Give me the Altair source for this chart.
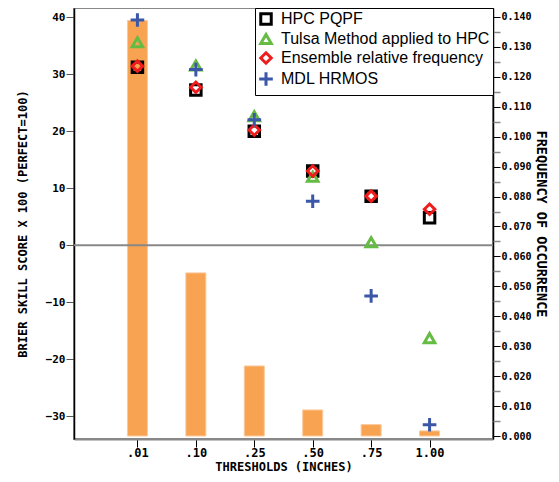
import altair as alt
import pandas as pd

thresholds = [".01", ".10", ".25", ".50", ".75", "1.00"]
positions = [1, 2, 3, 4, 5, 6]
frequency = [0.1388, 0.0545, 0.0234, 0.0087, 0.0038, 0.0017]

series_names = ["HPC PQPF", "Tulsa Method applied to HPC",
                "Ensemble relative frequency", "MDL HRMOS"]
hpc_pqpf = [31.2, 27.2, 20.0, 13.0, 8.6, 4.8]
tulsa = [35.6, 31.5, 22.6, 12.0, 0.5, -16.3]
ensemble = [31.4, 27.7, 20.2, 13.0, 8.6, 6.3]
mdl_hrmos = [39.5, 30.8, 22.0, 7.7, -8.9, -31.5]
zero_line = [0]

colors = ["#000000", "#66BB44", "#EE1C1C", "#3B57A8"]
shapes = ["square", "triangle-up", "diamond", "M-1.3,0H1.3M0,-1.3V1.3"]

bars_df = pd.DataFrame({"pos": positions, "label": thresholds, "freq": frequency})
rows = []
for name, vals in zip(series_names, [hpc_pqpf, tulsa, ensemble, mdl_hrmos]):
    for p, v in zip(positions, vals):
        rows.append({"pos": p, "series": name, "score": v})
pts_df = pd.DataFrame(rows)
zero_df = pd.DataFrame({"score": zero_line})

label_list = "[" + ",".join(["''"] + ["'%s'" % t for t in thresholds] + ["''"]) + "]"

MONO = "DejaVu Sans Mono"

x_scale = alt.Scale(domain=[0, 7], nice=False, zero=False)
x_axis = alt.Axis(values=positions, labelExpr=label_list + "[datum.value]",
                  title="THRESHOLDS (INCHES)", grid=False,
                  domainColor="#888888", domainWidth=2, tickColor="#000000",
                  tickSize=8, tickWidth=1, labelFont=MONO, labelFontWeight="bold",
                  labelFontSize=12, labelColor="#000", labelPadding=0,
                  titleFont=MONO, titleFontWeight="bold", titleFontSize=12,
                  titleColor="#000", titlePadding=3)

freq_scale = alt.Scale(domain=[-0.001, 0.143], nice=False, zero=False)
left_scale = alt.Scale(domain=[-34.0, 41.6], nice=False, zero=False)

bars = alt.Chart(bars_df).mark_bar(size=20, color="#F8A352", stroke="#FBC99A",
                                   strokeWidth=1).encode(
    x=alt.X("pos:Q", scale=x_scale, axis=x_axis),
    y=alt.Y("freq:Q", scale=freq_scale,
            axis=alt.Axis(orient="right", values=[i / 100 for i in range(15)],
                          format=".3f", title="FREQUENCY OF OCCURRENCE",
                          grid=False, domainColor="#000", domainWidth=1.5,
                          tickColor="#000", tickSize=7, labelFont=MONO,
                          labelFontWeight="bold", labelFontSize=10,
                          labelColor="#000", labelPadding=1,
                          titleFont=MONO, titleFontWeight="bold",
                          titleFontSize=13.5, titleColor="#000",
                          titlePadding=2)),
    y2=alt.datum(0),
)

minor = alt.Chart(bars_df).mark_point(opacity=0).encode(
    x=alt.X("pos:Q", scale=x_scale),
    y=alt.Y("freq:Q", scale=freq_scale,
            axis=alt.Axis(orient="right",
                          values=[(2 * i + 1) / 200 for i in range(14)],
                          labels=False, title=None, grid=False, domain=False,
                          tickColor="#888888", tickSize=7, tickWidth=1.5)),
)

left_axis = alt.Axis(orient="left", values=list(range(-30, 41, 10)),
                     title="BRIER SKILL SCORE X 100 (PERFECT=100)", grid=False,
                     domainColor="#000", domainWidth=1.5, tickColor="#555",
                     tickSize=8, labelFont=MONO, labelFontWeight="bold",
                     labelFontSize=11, labelColor="#000", labelPadding=1,
                     titleFont=MONO, titleFontWeight="bold", titleFontSize=12,
                     titleColor="#000", titlePadding=16)

rule = alt.Chart(zero_df).mark_rule(color="#888888", strokeWidth=2).encode(
    y=alt.Y("score:Q", scale=left_scale, axis=left_axis),
)

points = alt.Chart(pts_df).mark_point(filled=False, strokeWidth=3, size=110,
                                      opacity=1).encode(
    x=alt.X("pos:Q", scale=x_scale),
    y=alt.Y("score:Q", scale=left_scale, axis=left_axis),
    color=alt.Color("series:N", scale=alt.Scale(domain=series_names, range=colors),
                    legend=alt.Legend(title=None)),
    shape=alt.Shape("series:N", scale=alt.Scale(domain=series_names, range=shapes),
                    legend=alt.Legend(title=None)),
)

chart = alt.layer(bars, minor, alt.layer(rule, points)).resolve_scale(
    y="independent"
).properties(
    width=419, height=431,
    autosize=alt.AutoSizeParams(type="none"),
    padding={"left": 66, "top": 0, "right": 58, "bottom": 40},
).configure_view(
    stroke="#888888", strokeWidth=2
).configure_legend(
    orient="top-right", offset=0, strokeColor="#000", fillColor="#fff",
    padding=3, rowPadding=-4, labelFont="Liberation Sans", labelFontSize=16,
    labelColor="#000", symbolStrokeWidth=3, symbolSize=110, labelOffset=7,
    labelLimit=400, symbolType="square"
)

chart.save("out.html", embed_options={"renderer": "svg", "actions": False})
